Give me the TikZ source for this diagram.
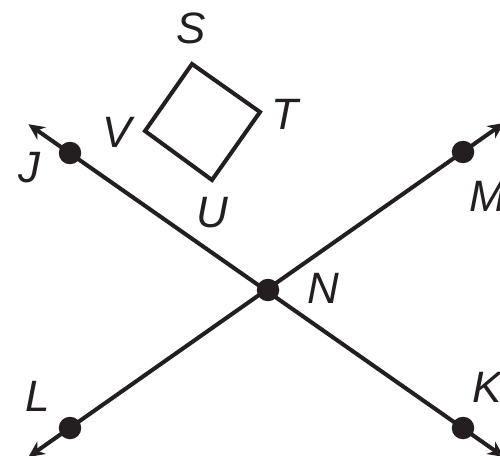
\documentclass[tikz,border=0pt]{standalone}
\usepackage{fontspec}
\setmainfont{Liberation Sans}
\usetikzlibrary{arrows.meta,calc}
\definecolor{ink}{HTML}{231F20}

\begin{document}
\begin{tikzpicture}[x=0.02cm,y=-0.02cm,
  line width=2.3pt, ink,
  dot/.style={circle,fill=ink,inner sep=0pt,minimum size=0.45cm},
  lbl/.style={font=\fontsize{25}{30}\selectfont\itshape,text=ink,inner sep=0pt},
  ray/.style={arrows={Stealth[length=0.32cm,width=0.3cm]-Stealth[length=0.32cm,width=0.3cm]}}]
\useasboundingbox (0,0) rectangle (500,456);
\clip (0,0) rectangle (500,456);

% points on the two lines
\node[dot] (N) at (268,290) {};
\node[dot] (J) at (70,153) {};
\node[dot] (M) at (463,152) {};
\node[dot] (L) at (70,428) {};
\node[dot] (K) at (463,428) {};

\coordinate (Jend) at ($(N)!1.21!(J)$);
\coordinate (Kend) at ($(N)!1.21!(K)$);
\coordinate (Lend) at ($(N)!1.21!(L)$);
\coordinate (Mend) at ($(N)!1.21!(M)$);

\draw[ray] (Jend) -- (Kend);
\draw[ray] (Lend) -- (Mend);

% the square
\coordinate (S) at (192,64);
\coordinate (T) at (260,112);
\coordinate (U) at (212,180);
\coordinate (V) at (145,131);
\draw[line join=miter] (S) -- (T) -- (U) -- (V) -- cycle;

% labels
\node[lbl] at (191,28) {S};
\node[lbl] at (285,114) {T};
\node[lbl] at (212,213) {U};
\node[lbl] at (117,132) {V};
\node[lbl] at (29,168) {J};
\node[lbl] at (488,196) {M};
\node[lbl] at (323,288) {N};
\node[lbl] at (38,396) {L};
\node[lbl] at (487,387) {K};
\end{tikzpicture}
\end{document}
